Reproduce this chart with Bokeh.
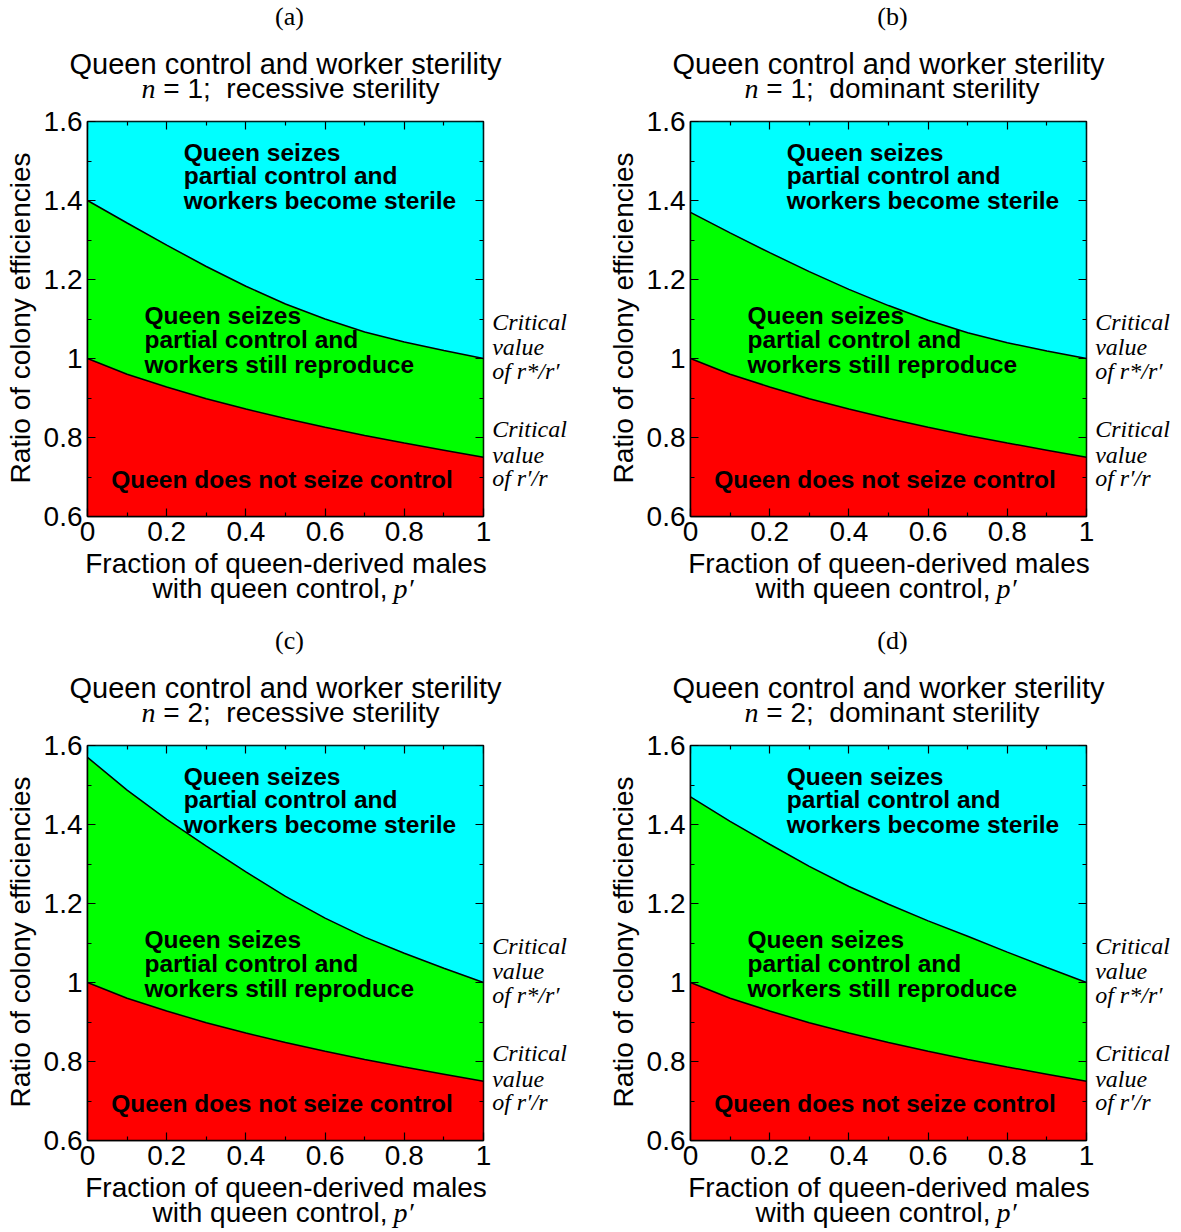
import math
from bokeh.plotting import figure
from bokeh.models import Range1d, LinearAxis, FixedTicker, Label, ColumnDataSource, CustomJSTickFormatter
from bokeh.layouts import column, row
from bokeh.embed import file_html
from bokeh.resources import INLINE

# ---------------- data ----------------
p_frac = [0.0, 0.1, 0.2, 0.3, 0.4, 0.5, 0.6, 0.7, 0.8, 0.9, 1.0]
# critical value of r'/r (lower boundary, same in all panels)
crit_rp_r = [1.0, 0.96, 0.928, 0.898, 0.872, 0.848, 0.826, 0.805, 0.786, 0.768, 0.75]
# critical value of r*/r' (upper boundary) per panel
crit_rs_rp_a = [1.40, 1.343, 1.287, 1.233, 1.183, 1.138, 1.100, 1.067, 1.042, 1.020, 1.0]
crit_rs_rp_b = [1.37, 1.318, 1.268, 1.220, 1.175, 1.134, 1.097, 1.065, 1.040, 1.019, 1.0]
crit_rs_rp_c = [1.57, 1.487, 1.413, 1.345, 1.280, 1.218, 1.163, 1.115, 1.074, 1.036, 1.0]
crit_rs_rp_d = [1.47, 1.408, 1.350, 1.294, 1.243, 1.198, 1.156, 1.117, 1.077, 1.038, 1.0]

panel_letters = ["(a)", "(b)", "(c)", "(d)"]
panel_n = ["1", "1", "2", "2"]
panel_kind = ["recessive", "dominant", "recessive", "dominant"]

x_major = [0.0, 0.2, 0.4, 0.6, 0.8, 1.0]
x_minor = [0.1, 0.3, 0.5, 0.7, 0.9]
y_major = [0.6, 0.8, 1.0, 1.2, 1.4, 1.6]
y_minor = [0.7, 0.9, 1.1, 1.3, 1.5]

# ---------------- styling / layout ----------------
SANS = "Liberation Sans"
SERIF = "Liberation Serif"
FW, FH = 396, 395               # plot frame size (px)
BL, BR, BT, BB = 50, 8, 16, 32  # plot figure borders
LEFT_W = 37
RIGHT_W = [112, 85]
HDR_H = [105, 105]
FTR_H = [76, 60]
PLOT_W = BL + FW + BR
PLOT_H = BT + FH + BB

fmt_code = "return (Math.abs(tick - Math.round(tick)) < 1e-9) ? tick.toFixed(0) : tick.toFixed(1);"


def X(dpx):
    return dpx / FW


def Y(dpy):
    return 1.6 - dpy / FH


def add_label(f, x, y, text, size, font=SANS, style="normal", align="left", angle=0.0):
    f.add_layout(Label(x=x, y=y, text=text, text_font=font,
                       text_font_size=size, text_font_style=style,
                       text_align=align, text_baseline="middle", angle=angle,
                       text_color="black"))


def text_fig(w, h, strip=False):
    if strip:
        # side strip: same vertical frame as the plot next to it
        f = figure(width=w, height=h, x_range=Range1d(0, w), y_range=Range1d(0.6, 1.6),
                   output_backend="svg", toolbar_location=None,
                   x_axis_location=None, y_axis_location=None,
                   min_border_left=0, min_border_right=0, min_border_top=BT, min_border_bottom=BB,
                   outline_line_color=None, background_fill_color="white", border_fill_color="white")
    else:
        f = figure(width=w, height=h, x_range=Range1d(0, w), y_range=Range1d(h, 0),
                   output_backend="svg", toolbar_location=None,
                   x_axis_location=None, y_axis_location=None,
                   min_border_left=0, min_border_right=0, min_border_top=0, min_border_bottom=0,
                   outline_line_color=None, background_fill_color="white", border_fill_color="white")
    f.grid.visible = False
    return f


def style_axis(ax, ticks, minor, show_labels, standoff=5):
    ax.ticker = FixedTicker(ticks=ticks, minor_ticks=minor)
    ax.formatter = CustomJSTickFormatter(code=fmt_code)
    ax.major_tick_in = 8
    ax.major_tick_out = 0
    ax.minor_tick_in = 4
    ax.minor_tick_out = 0
    ax.axis_line_width = 1.5
    ax.axis_line_color = "black"
    ax.major_tick_line_width = 1.2
    ax.minor_tick_line_width = 1.2
    ax.major_tick_line_color = "black"
    ax.minor_tick_line_color = "black"
    ax.major_label_text_font = SANS
    ax.major_label_text_font_size = "28px"
    ax.major_label_text_color = "black" if show_labels else None
    ax.major_label_standoff = standoff


def plot_fig(upper_vals):
    p = figure(width=PLOT_W, height=PLOT_H, x_range=Range1d(0, 1), y_range=Range1d(0.6, 1.6),
               output_backend="svg", toolbar_location=None,
               min_border_left=BL, min_border_right=BR,
               min_border_top=BT, min_border_bottom=BB,
               background_fill_color="white", border_fill_color="white")
    p.xgrid.visible = False
    p.ygrid.visible = False
    p.outline_line_color = "black"
    p.outline_line_width = 1.5

    src = ColumnDataSource(dict(p=p_frac, low=crit_rp_r, up=upper_vals))
    p.varea(x="p", y1=0.6, y2="low", source=src, fill_color="#ff0000")
    p.varea(x="p", y1="low", y2="up", source=src, fill_color="#00ff00")
    p.varea(x="p", y1="up", y2=1.6, source=src, fill_color="#00ffff")
    p.line(x="p", y="low", source=src, line_color="black", line_width=1.5)
    p.line(x="p", y="up", source=src, line_color="black", line_width=1.5)

    style_axis(p.below[0], x_major, x_minor, True, standoff=5)
    style_axis(p.left[0], y_major, y_minor, True)
    top = LinearAxis(fixed_location=1.6)
    style_axis(top, x_major, x_minor, False)
    p.add_layout(top, "above")
    right = LinearAxis(fixed_location=1.0)
    style_axis(right, y_major, y_minor, False)
    p.add_layout(right, "right")

    for dy, t in zip([30.9, 54.2, 78.5], ["Queen seizes", "partial control and", "workers become sterile"]):
        add_label(p, X(96.3), Y(dy), t, "24.5px", style="bold")
    for dy, t in zip([194.2, 217.5, 242.5], ["Queen seizes", "partial control and", "workers still reproduce"]):
        add_label(p, X(57), Y(dy), t, "24.5px", style="bold")
    add_label(p, X(23.7), Y(357.5), "Queen does not seize control", "24.5px", style="bold")
    return p


def header_fig(i, w, h):
    f = text_fig(w, h)
    add_label(f, 289, 16, panel_letters[i], "26px", font=SERIF, align="center")
    add_label(f, 285, 63, "Queen control and worker sterility", "29px", align="center")
    add_label(f, 155, 88, "n", "28px", font=SERIF, style="italic", align="right")
    add_label(f, 155, 88, "\u00a0=\u00a0" + panel_n[i] + ";\u00a0\u00a0" + panel_kind[i] + " sterility", "28px")
    return f


def footer_fig(w, h):
    f = text_fig(w, h)
    add_label(f, 285.5, 15, "Fraction of queen-derived males", "28px", align="center")
    add_label(f, 152, 40, "with queen control,", "28px")
    add_label(f, 393, 40, "p\u2032", "28px", font=SERIF, style="italic")
    return f


def left_fig():
    f = text_fig(LEFT_W, PLOT_H, strip=True)
    add_label(f, 20, Y(196.5), "Ratio of colony efficiencies", "28px", align="center", angle=math.pi / 2)
    return f


def right_fig(w):
    f = text_fig(w, PLOT_H, strip=True)
    for dy, t in zip([200, 225, 249], ["Critical", "value", "of r*/r\u2032"]):
        add_label(f, 0.7, Y(dy), t, "24px", font=SERIF, style="italic")
    for dy, t in zip([307.3, 333.3, 356.7], ["Critical", "value", "of r\u2032/r"]):
        add_label(f, 0.7, Y(dy), t, "24px", font=SERIF, style="italic")
    return f


uppers = [crit_rs_rp_a, crit_rs_rp_b, crit_rs_rp_c, crit_rs_rp_d]
rows = []
for r in range(2):
    hdrs, mids, ftrs = [], [], []
    for c in range(2):
        i = 2 * r + c
        w = LEFT_W + PLOT_W + RIGHT_W[c]
        hdrs.append(header_fig(i, w, HDR_H[r]))
        mids.extend([left_fig(), plot_fig(uppers[i]), right_fig(RIGHT_W[c])])
        ftrs.append(footer_fig(w, FTR_H[r]))
    rows.extend([row(*hdrs), row(*mids), row(*ftrs)])

layout = column(*rows)
open("out.html", "w").write(file_html(layout, INLINE))
